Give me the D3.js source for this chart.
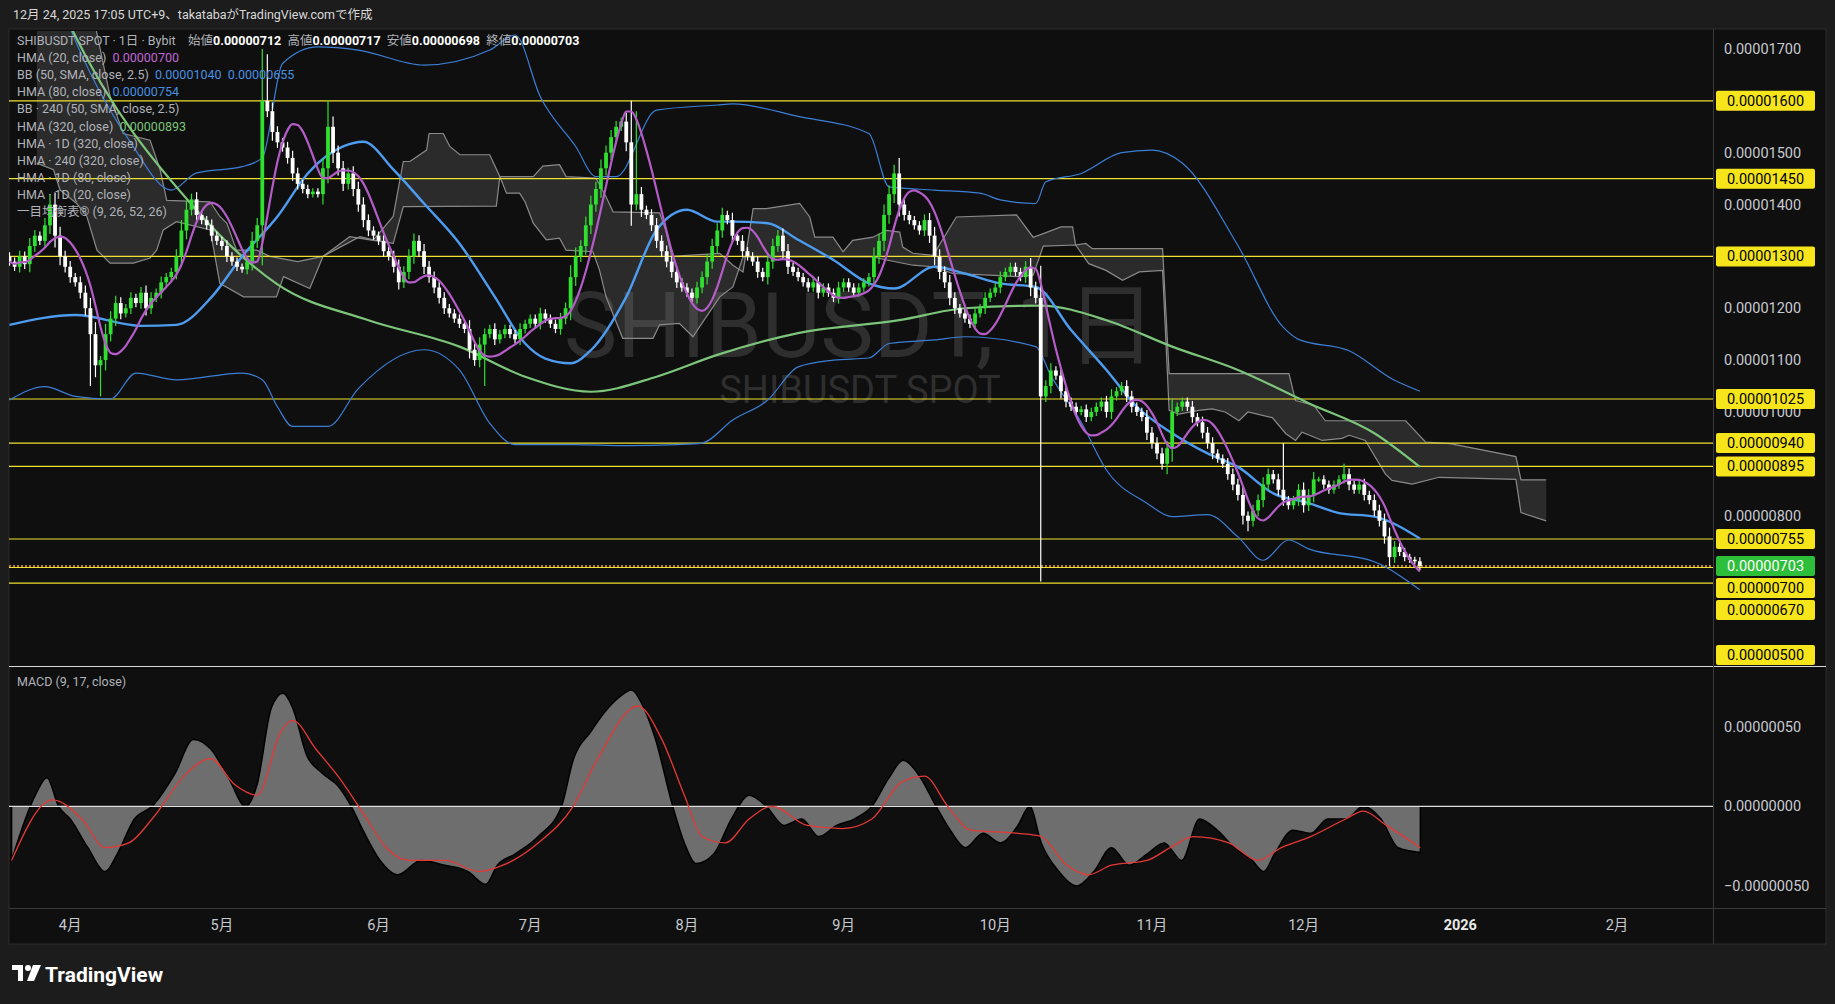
<!DOCTYPE html>
<html><head><meta charset="utf-8">
<script src="https://cdn.jsdelivr.net/npm/d3@7"></script>
<style>body{margin:0;background:#1c1c1c;overflow:hidden}text{font-family:Roboto,"Noto Sans CJK JP",sans-serif;white-space:pre}</style>
</head><body><svg id="c" width="1835" height="1004"></svg>
<script>
// ---------- DATA (prices in units of 1e-8) ----------
const firstDay = "2025-03-20";
const closesMar = [1290,1280,1300,1285,1320,1340,1330,1360,1400,1340,1300,1280];
const closesApr = [1260,1250,1230,1200,1150,1090,1100,1150,1180,1210,1190,1200,1220,1210,1230,1200,1220,1230,1250,1260,1270,1300,1350,1390,1410,1380,1370,1360,1340,1330];
const closesMay = [1320,1300,1290,1280,1275,1290,1330,1360,1600,1580,1540,1520,1510,1490,1460,1440,1430,1420,1425,1420,1470,1550,1500,1470,1440,1460,1430,1400,1370,1350,1340];
const closesJun = [1330,1310,1300,1280,1250,1270,1300,1330,1310,1280,1260,1240,1220,1200,1190,1180,1170,1160,1120,1100,1130,1150,1160,1140,1150,1160,1150,1140,1160,1170];
const closesJul = [1180,1170,1190,1180,1170,1160,1180,1200,1260,1300,1320,1360,1400,1430,1470,1500,1530,1550,1560,1520,1400,1420,1390,1380,1360,1330,1310,1290,1270,1250,1240];
const closesAug = [1230,1220,1240,1260,1290,1320,1350,1380,1370,1340,1330,1310,1300,1290,1270,1260,1290,1320,1340,1310,1280,1270,1260,1250,1240,1250,1230,1240,1230,1220,1240];
const closesSep = [1250,1240,1230,1240,1250,1260,1300,1330,1380,1420,1460,1400,1380,1370,1360,1350,1370,1340,1300,1270,1250,1220,1200,1190,1180,1170,1190,1200,1220,1230];
const closesOct = [1240,1260,1270,1280,1270,1260,1280,1240,1220,1030,1050,1080,1070,1040,1020,1010,1000,1005,990,1000,1010,1020,1000,1030,1040,1050,1030,1010,1000,990,960];
const closesNov = [940,920,900,930,1000,1010,1020,1010,990,980,960,940,920,910,900,880,860,840,800,790,810,830,860,880,870,850,830,820,830,850];
const closesDec = [820,840,870,870,860,850,860,870,880,860,850,860,840,830,810,790,760,720,740,730,720,715,712,703];
// notable wicks: [date, high, low]
const wickExtremes = [["2025-03-28",1420,null],["2025-04-05",null,1050],["2025-04-07",null,1030],["2025-05-09",1700,null],["2025-05-10",1690,null],["2025-05-22",1600,null],["2025-06-22",null,1050],["2025-07-21",1600,null],["2025-07-22",1580,null],["2025-09-12",1490,null],["2025-10-10",null,673],["2025-11-04",null,880],["2025-11-20",null,770],["2025-11-27",940,null],["2025-12-09",900,null]];
// indicator lines: [day offset from 2025-04-01, value]
const hma80 = [[-12,1168],[1,1187],[14,1166],[21,1168],[28,1222],[34,1300],[41,1377],[47,1460],[54,1512],[58,1521],[64,1467],[70,1402],[77,1325],[84,1222],[90,1132],[94,1103],[99,1094],[103,1119],[110,1222],[116,1351],[122,1390],[128,1367],[131,1367],[138,1364],[144,1332],[151,1293],[158,1248],[163,1238],[171,1280],[177,1267],[184,1248],[191,1241],[198,1158],[205,1081],[211,1010],[218,959],[225,920],[231,894],[238,843],[245,824],[251,805],[258,798],[267,756]];
const hma320 = [[-4,1830],[0,1745],[25,1389],[34,1300],[41,1246],[59,1177],[77,1126],[90,1068],[103,1039],[116,1068],[128,1110],[144,1152],[164,1177],[177,1200],[192,1205],[205,1177],[218,1126],[231,1081],[245,1017],[258,959],[267,894]];
const bbUpper = [[-2,1790],[0,1740],[12,1519],[20,1428],[25,1461],[34,1473],[38,1490],[42,1672],[49,1704],[57,1698],[70,1669],[83,1698],[88,1727],[93,1608],[100,1512],[104,1454],[108,1454],[116,1582],[128,1592],[131,1594],[144,1570],[158,1537],[162,1434],[171,1428],[180,1422],[184,1409],[191,1402],[193,1444],[200,1460],[208,1500],[214,1505],[220,1480],[231,1321],[240,1163],[243,1140],[253,1118],[262,1061],[267,1040]];
const bbLower = [[-12,1023],[-5,1049],[1,1030],[8,1025],[13,1075],[21,1062],[34,1075],[38,1062],[41,1010],[44,972],[51,972],[57,1045],[70,1120],[77,1081],[83,978],[88,937],[100,937],[110,935],[120,937],[125,940],[131,984],[138,1023],[144,1087],[151,1100],[158,1104],[162,1132],[171,1139],[177,1145],[191,1126],[194,1070],[200,980],[205,888],[213,824],[218,798],[225,802],[231,759],[236,714],[241,753],[245,736],[258,711],[267,657]];
const cloudA = [[-6.6,1800],[4,1790],[7.9,1608],[10.5,1537],[15.8,1524],[17.8,1467],[19.1,1408],[27.7,1405],[29.6,1377],[31,1364],[32.9,1312],[36.9,1312],[39.5,1300],[45,1290],[50,1300],[57.3,1338],[60,1332],[63.9,1377],[65.9,1483],[67.2,1483],[70.5,1505],[71,1537],[73.8,1537],[75.1,1512],[77.1,1496],[83,1496],[85,1454],[91.6,1454],[93.5,1474],[96.8,1477],[98.1,1454],[104,1451],[106,1415],[107.4,1386],[116.6,1384],[117.8,1351],[119,1300],[128.5,1306],[131.1,1283],[133.1,1270],[135.1,1392],[137.7,1392],[144.3,1402],[146.3,1376],[147.3,1337],[150.9,1337],[152.9,1309],[154.8,1331],[158.8,1337],[161.5,1350],[164.1,1347],[164.7,1318],[166.7,1306],[170.7,1302],[175.3,1376],[187.2,1380],[190.5,1337],[192.5,1344],[196,1357],[198.3,1357],[198.9,1322],[200.9,1325],[202.2,1315],[216.1,1315],[217.4,1074],[241.1,1074],[242.4,1022],[246,1013],[248.3,983],[264.2,983],[268.1,942],[273,939],[286,914],[287,869],[292,869]];
const cloudB = [[-6.6,1480],[-3.3,1467],[-2,1428],[1.3,1402],[3.3,1377],[5.3,1312],[7.9,1287],[12.5,1287],[15.8,1297],[17.1,1312],[18.4,1351],[21,1367],[27.7,1351],[29.6,1248],[34.3,1222],[40.8,1222],[42.2,1261],[47.4,1238],[50,1300],[55.3,1338],[59.3,1332],[63.9,1325],[65.9,1396],[84.3,1397],[85,1454],[86.3,1422],[88.9,1422],[90,1405],[91.6,1364],[94.2,1332],[96.8,1335],[98.1,1312],[103.4,1309],[104.7,1274],[106,1222],[109.3,1142],[115.3,1142],[116.6,1168],[120.5,1171],[123.2,1145],[124.5,1164],[128.5,1222],[131.1,1241],[133.1,1299],[158.8,1299],[161.5,1293],[166.7,1283],[170.7,1280],[174.6,1267],[181.9,1264],[187.2,1261],[190.5,1264],[192.5,1320],[198.9,1322],[201.5,1286],[204.9,1273],[208.2,1254],[211.5,1270],[216.1,1273],[217.4,1003],[219.3,996],[223.3,1003],[225.9,1006],[228.5,1000],[231.2,983],[233,1000],[237.8,989],[240.5,958],[242.4,945],[243.7,961],[247.7,945],[251.6,949],[253,955],[256.2,945],[260.2,880],[261.5,868],[265.5,861],[270.8,874],[286,870],[287,806],[292,790]];
// MACD (units of 1e-8)
const macdLine = [[-11.6,-34],[-6.9,7],[-4.6,18],[-2.3,0],[0,-8],[3.5,-26],[6.9,-41],[9.3,-30],[12.7,-8],[16.2,0],[20.8,21],[24.3,42],[27.8,36],[31.3,18],[34.7,0],[37,14],[39.8,62],[42.1,71],[44,62],[46.8,32],[49.8,21],[53.2,12],[55.6,0],[57.9,-15],[61.3,-34],[64.8,-43],[69.4,-34],[74.1,-37],[78.7,-41],[82.2,-49],[84.5,-37],[88,-30],[92.6,-19],[97.2,0],[99.5,29],[103,47],[106.5,62],[108.8,69],[111.1,73],[113,65],[115.7,43],[119.2,0],[121.5,-23],[123.8,-36],[127.3,-30],[130.8,-8],[134.3,7],[137.7,0],[141.2,-12],[144.7,-8],[148.1,-19],[151.6,-12],[155.1,-8],[158.6,0],[162,18],[164.8,29],[167.8,20],[171.3,0],[174.1,-15],[177.1,-26],[180.6,-17],[184,-23],[187.5,-12],[189.8,0],[192.1,-23],[195.6,-41],[199.1,-50],[202.5,-41],[206,-26],[209.5,-37],[213,-30],[216.4,-23],[219.9,-34],[223.4,-8],[226.9,-15],[230.3,-26],[233.8,-34],[236.1,-41],[238.4,-29],[241.9,-15],[245.4,-17],[248.8,-8],[252.3,-8],[255.8,0],[259.3,-8],[262.7,-26],[267.1,-29]];
const macdSignal = [[-11.6,-34],[-3.5,4],[2.3,-8],[6.9,-26],[11.6,-23],[16.2,-8],[23.1,21],[27.8,30],[32.4,14],[37,7],[41.7,47],[44,54],[48.6,36],[53.2,18],[57.9,-4],[62.5,-26],[67.1,-34],[74.1,-34],[81,-41],[85.6,-37],[92.6,-23],[99.5,0],[104.2,29],[112.3,63],[116.9,43],[121.5,7],[125,-19],[129.6,-23],[134.3,-8],[138.9,0],[145.8,-12],[152.8,-14],[158.6,-8],[164.4,15],[169,19],[173.6,0],[178.2,-15],[187.5,-17],[192.1,-19],[196.8,-36],[201.4,-43],[206,-37],[213,-34],[217.6,-26],[222.2,-19],[229.2,-23],[235,-34],[239.6,-26],[245.4,-19],[252.3,-8],[255.8,-3],[260.4,-12],[267.1,-26]];
const priceLevels = [1600,1450,1300,1025,940,895,755,700,670,500];
const lastPrice = 703;
const axisPriceTicks = [1700,1500,1400,1200,1100,1000,800];
const macdTicks = [50,0,-50];
const monthTicks = ["2025-04-01","2025-05-01","2025-06-01","2025-07-01","2025-08-01","2025-09-01","2025-10-01","2025-11-01","2025-12-01","2026-01-01","2026-02-01"];
const monthLabels = ["4月","5月","6月","7月","8月","9月","10月","11月","12月","2026","2月"];

// ---------- SETUP ----------
const svg = d3.select("#c");
const W=1835,H=1004, L=9, R=1713, T=31, MB=665, MT=668, MBot=908;
const parse = s => { const [y,m,d]=s.split("-").map(Number); return new Date(y,m-1,d); };
const apr1 = parse("2025-04-01");
const dOff = d => new Date(apr1.getTime()+d*864e5);
const x = d3.scaleTime().domain([apr1, parse("2026-02-01")]).range([70.2,1617]);
const y = d3.scaleLinear().domain([500,1700]).range([671.2,49]);
const ym = d3.scaleLinear().domain([-50,50]).range([885.9,726.7]);
const fmt = v => (v*1e-8).toFixed(8);

svg.append("rect").attr("width",W).attr("height",H).attr("fill","#1c1c1c");
svg.append("rect").attr("x",L).attr("y",29).attr("width",1817).attr("height",915).attr("fill","#0f0f0f").attr("stroke","#2c2c2c");
const defs=svg.append("defs");
defs.append("clipPath").attr("id","cm").append("rect").attr("x",L).attr("y",T).attr("width",R-L).attr("height",MB-T);
defs.append("clipPath").attr("id","cd").append("rect").attr("x",L).attr("y",MT).attr("width",R-L).attr("height",MBot-MT);

const closes = [].concat(closesMar,closesApr,closesMay,closesJun,closesJul,closesAug,closesSep,closesOct,closesNov,closesDec);
const start = parse(firstDay);
const wmap = new Map(wickExtremes.map(w=>[parse(w[0]).getTime(),w]));
const candles = closes.map((c,i)=>{
  const date = d3.timeDay.offset(start,i);
  const o = i>0?closes[i-1]:1300;
  const w = 5+0.3*Math.abs(c-o);
  let hi=Math.max(o,c)+w, lo=Math.min(o,c)-w;
  const e=wmap.get(date.getTime());
  if(e){ if(e[1]!=null)hi=e[1]; if(e[2]!=null)lo=e[2]; }
  return {date,o,c,hi,lo};
});
function wma(a,n){return a.map((_,i)=>{const m=Math.min(n,i+1);let s=0,ws=0;for(let k=0;k<m;k++){s+=a[i-k]*(m-k);ws+=m-k;}return s/ws;});}
const w10=wma(closes,10), w20=wma(closes,20);
const hma20=wma(w10.map((v,i)=>2*v-w20[i]),4);

const main = svg.append("g").attr("clip-path","url(#cm)");
main.append("text").attr("x",860).attr("y",357).attr("text-anchor","middle").attr("font-size",90).attr("fill","#2e2e2e").text("SHIBUSDT, 1日");
main.append("text").attr("x",860).attr("y",403).attr("text-anchor","middle").attr("font-size",38).attr("fill","#2e2e2e").text("SHIBUSDT SPOT");

const cpts = cloudA.concat(cloudB.slice().reverse());
main.append("path").attr("d", d3.line().x(p=>x(dOff(p[0]))).y(p=>y(p[1]))(cpts)+"Z").attr("fill","rgba(120,120,120,0.28)");
[cloudA,cloudB].forEach(s=>main.append("path").attr("d",d3.line().x(p=>x(dOff(p[0]))).y(p=>y(p[1]))(s)).attr("fill","none").attr("stroke","#8a8a8a").attr("stroke-width",1.2));

priceLevels.forEach(v=>main.append("line").attr("x1",L).attr("x2",R).attr("y1",y(v)).attr("y2",y(v)).attr("stroke","#f2e230").attr("stroke-width",1.2));
main.append("line").attr("x1",L).attr("x2",R).attr("y1",y(lastPrice)).attr("y2",y(lastPrice)).attr("stroke","#f5a623").attr("stroke-width",1.5).attr("stroke-dasharray","2,2");

const sm = d3.line().curve(d3.curveMonotoneX).x(p=>x(dOff(p[0]))).y(p=>y(p[1]));
main.append("path").attr("d",sm(bbUpper)).attr("fill","none").attr("stroke","#3b7fd6").attr("stroke-width",1.2);
main.append("path").attr("d",sm(bbLower)).attr("fill","none").attr("stroke","#3b7fd6").attr("stroke-width",1.2);
main.append("path").attr("d",sm(hma320)).attr("fill","none").attr("stroke","#7cc57a").attr("stroke-width",2.2);
main.append("path").attr("d",sm(hma80)).attr("fill","none").attr("stroke","#4d9cf0").attr("stroke-width",2.4);

const cg = main.append("g");
candles.forEach(d=>{
  const cx=x(d.date), col = d.c>=d.o?"#2fe02f":"#ffffff";
  cg.append("line").attr("x1",cx).attr("x2",cx).attr("y1",y(d.hi)).attr("y2",y(d.lo)).attr("stroke",col).attr("stroke-width",1.2);
  const y1=y(Math.max(d.o,d.c)), y2=y(Math.min(d.o,d.c));
  cg.append("rect").attr("x",cx-1.9).attr("width",3.8).attr("y",y1).attr("height",Math.max(1.2,y2-y1)).attr("fill",col);
});
main.append("path").attr("d",d3.line().curve(d3.curveMonotoneX).x((v,i)=>x(candles[i].date)).y(v=>y(v))(hma20)).attr("fill","none").attr("stroke","#b45cc8").attr("stroke-width",2.2);

const leg=[["SHIBUSDT SPOT · 1日 · Bybit  ",null],["HMA (20, close)  ","0.00000700","#c067d4"],["BB (50, SMA, close, 2.5)  ","0.00001040  0.00000655","#4a8fe0"],["HMA (80, close)  ","0.00000754","#4a8fe0"],["BB · 240 (50, SMA, close, 2.5)",""],["HMA (320, close)  ","0.00000893","#7cc57a"],["HMA · 1D (320, close)",""],["HMA · 240 (320, close)",""],["HMA · 1D (80, close)",""],["HMA · 1D (20, close)",""],["一目均衡表® (9, 26, 52, 26)",""]];
leg.forEach((r,i)=>{
  const t=svg.append("text").attr("x",17).attr("y",45+i*17.1).attr("font-size",12.5).attr("fill","#b0b3ba");
  t.append("tspan").text(r[0]);
  if(i===0){
    [["始値","0.00000712"],["高値","0.00000717"],["安値","0.00000698"],["終値","0.00000703"]].forEach(p=>{t.append("tspan").text("  "+p[0]);t.append("tspan").attr("fill","#fff").attr("font-weight","bold").text(p[1]);});
  } else if(r[1]) t.append("tspan").attr("fill",r[2]).text(r[1]);
});

const mg = svg.append("g").attr("clip-path","url(#cd)");
mg.append("path").attr("d",d3.area().curve(d3.curveMonotoneX).x(p=>x(dOff(p[0]))).y0(ym(0)).y1(p=>ym(p[1]))(macdLine)).attr("fill","#6e6e6e").attr("stroke","#000").attr("stroke-width",1.5);
mg.append("line").attr("x1",L).attr("x2",R).attr("y1",ym(0)).attr("y2",ym(0)).attr("stroke","#e0e0e0").attr("stroke-width",1.2);
mg.append("path").attr("d",d3.line().curve(d3.curveMonotoneX).x(p=>x(dOff(p[0]))).y(p=>ym(p[1]))(macdSignal)).attr("fill","none").attr("stroke","#e53935").attr("stroke-width",1.3);
svg.append("text").attr("x",17).attr("y",686).attr("font-size",12.5).attr("fill","#b0b3ba").text("MACD (9, 17, close)");

svg.append("line").attr("x1",L).attr("x2",1826).attr("y1",666.5).attr("y2",666.5).attr("stroke","#d8d8d8").attr("stroke-width",1.2);
svg.append("line").attr("x1",L).attr("x2",1826).attr("y1",908.5).attr("y2",908.5).attr("stroke","#3a3a3a");
svg.append("line").attr("x1",R+0.5).attr("x2",R+0.5).attr("y1",29).attr("y2",944).attr("stroke","#3a3a3a");

axisPriceTicks.forEach(v=>svg.append("text").attr("x",1724).attr("y",y(v)+5).attr("font-size",14.5).attr("fill","#c8cad0").text(fmt(v)));
macdTicks.forEach(v=>svg.append("text").attr("x",1724).attr("y",ym(v)+5).attr("font-size",14.5).attr("fill","#c8cad0").text((v<0?"−":"")+Math.abs(v*1e-8).toFixed(8)));
const labs = priceLevels.map(v=>({v,c:"#f7e51c",t:"#000"})).concat([{v:lastPrice,c:"#2dbf3a",t:"#fff"}]).sort((a,b)=>b.v-a.v);
let prev=-1e9;
labs.forEach(l=>{ let yy=Math.max(y(l.v),prev+22); yy=Math.min(yy,655); prev=yy;
  svg.append("rect").attr("x",1716).attr("y",yy-10).attr("width",99).attr("height",20).attr("rx",2).attr("fill",l.c);
  svg.append("text").attr("x",1765.5).attr("y",yy+5).attr("text-anchor","middle").attr("font-size",14.5).attr("fill",l.t).text(fmt(l.v));
});

monthTicks.forEach((m,i)=>svg.append("text").attr("x",x(parse(m))).attr("y",930).attr("text-anchor","middle").attr("font-size",14.5).attr("font-weight",monthLabels[i]==="2026"?"bold":"normal").attr("fill",monthLabels[i]==="2026"?"#e8e8e8":"#c8cad0").text(monthLabels[i]));

svg.append("text").attr("x",13).attr("y",19).attr("font-size",12.5).attr("fill","#d8d8d8").text("12月 24, 2025 17:05 UTC+9、takatabaがTradingView.comで作成");
const lg=svg.append("g").attr("transform","translate(12,965)").attr("fill","#fff");
lg.append("path").attr("d","M0 0 H11 V16 H6 V5 H0 Z");
lg.append("circle").attr("cx",16).attr("cy",3).attr("r",3);
lg.append("path").attr("d","M21 0 H29 L22 16 H15 Z");
svg.append("text").attr("x",45).attr("y",982).attr("font-size",21).attr("font-weight","bold").attr("fill","#fff").text("TradingView");
</script></body></html>
